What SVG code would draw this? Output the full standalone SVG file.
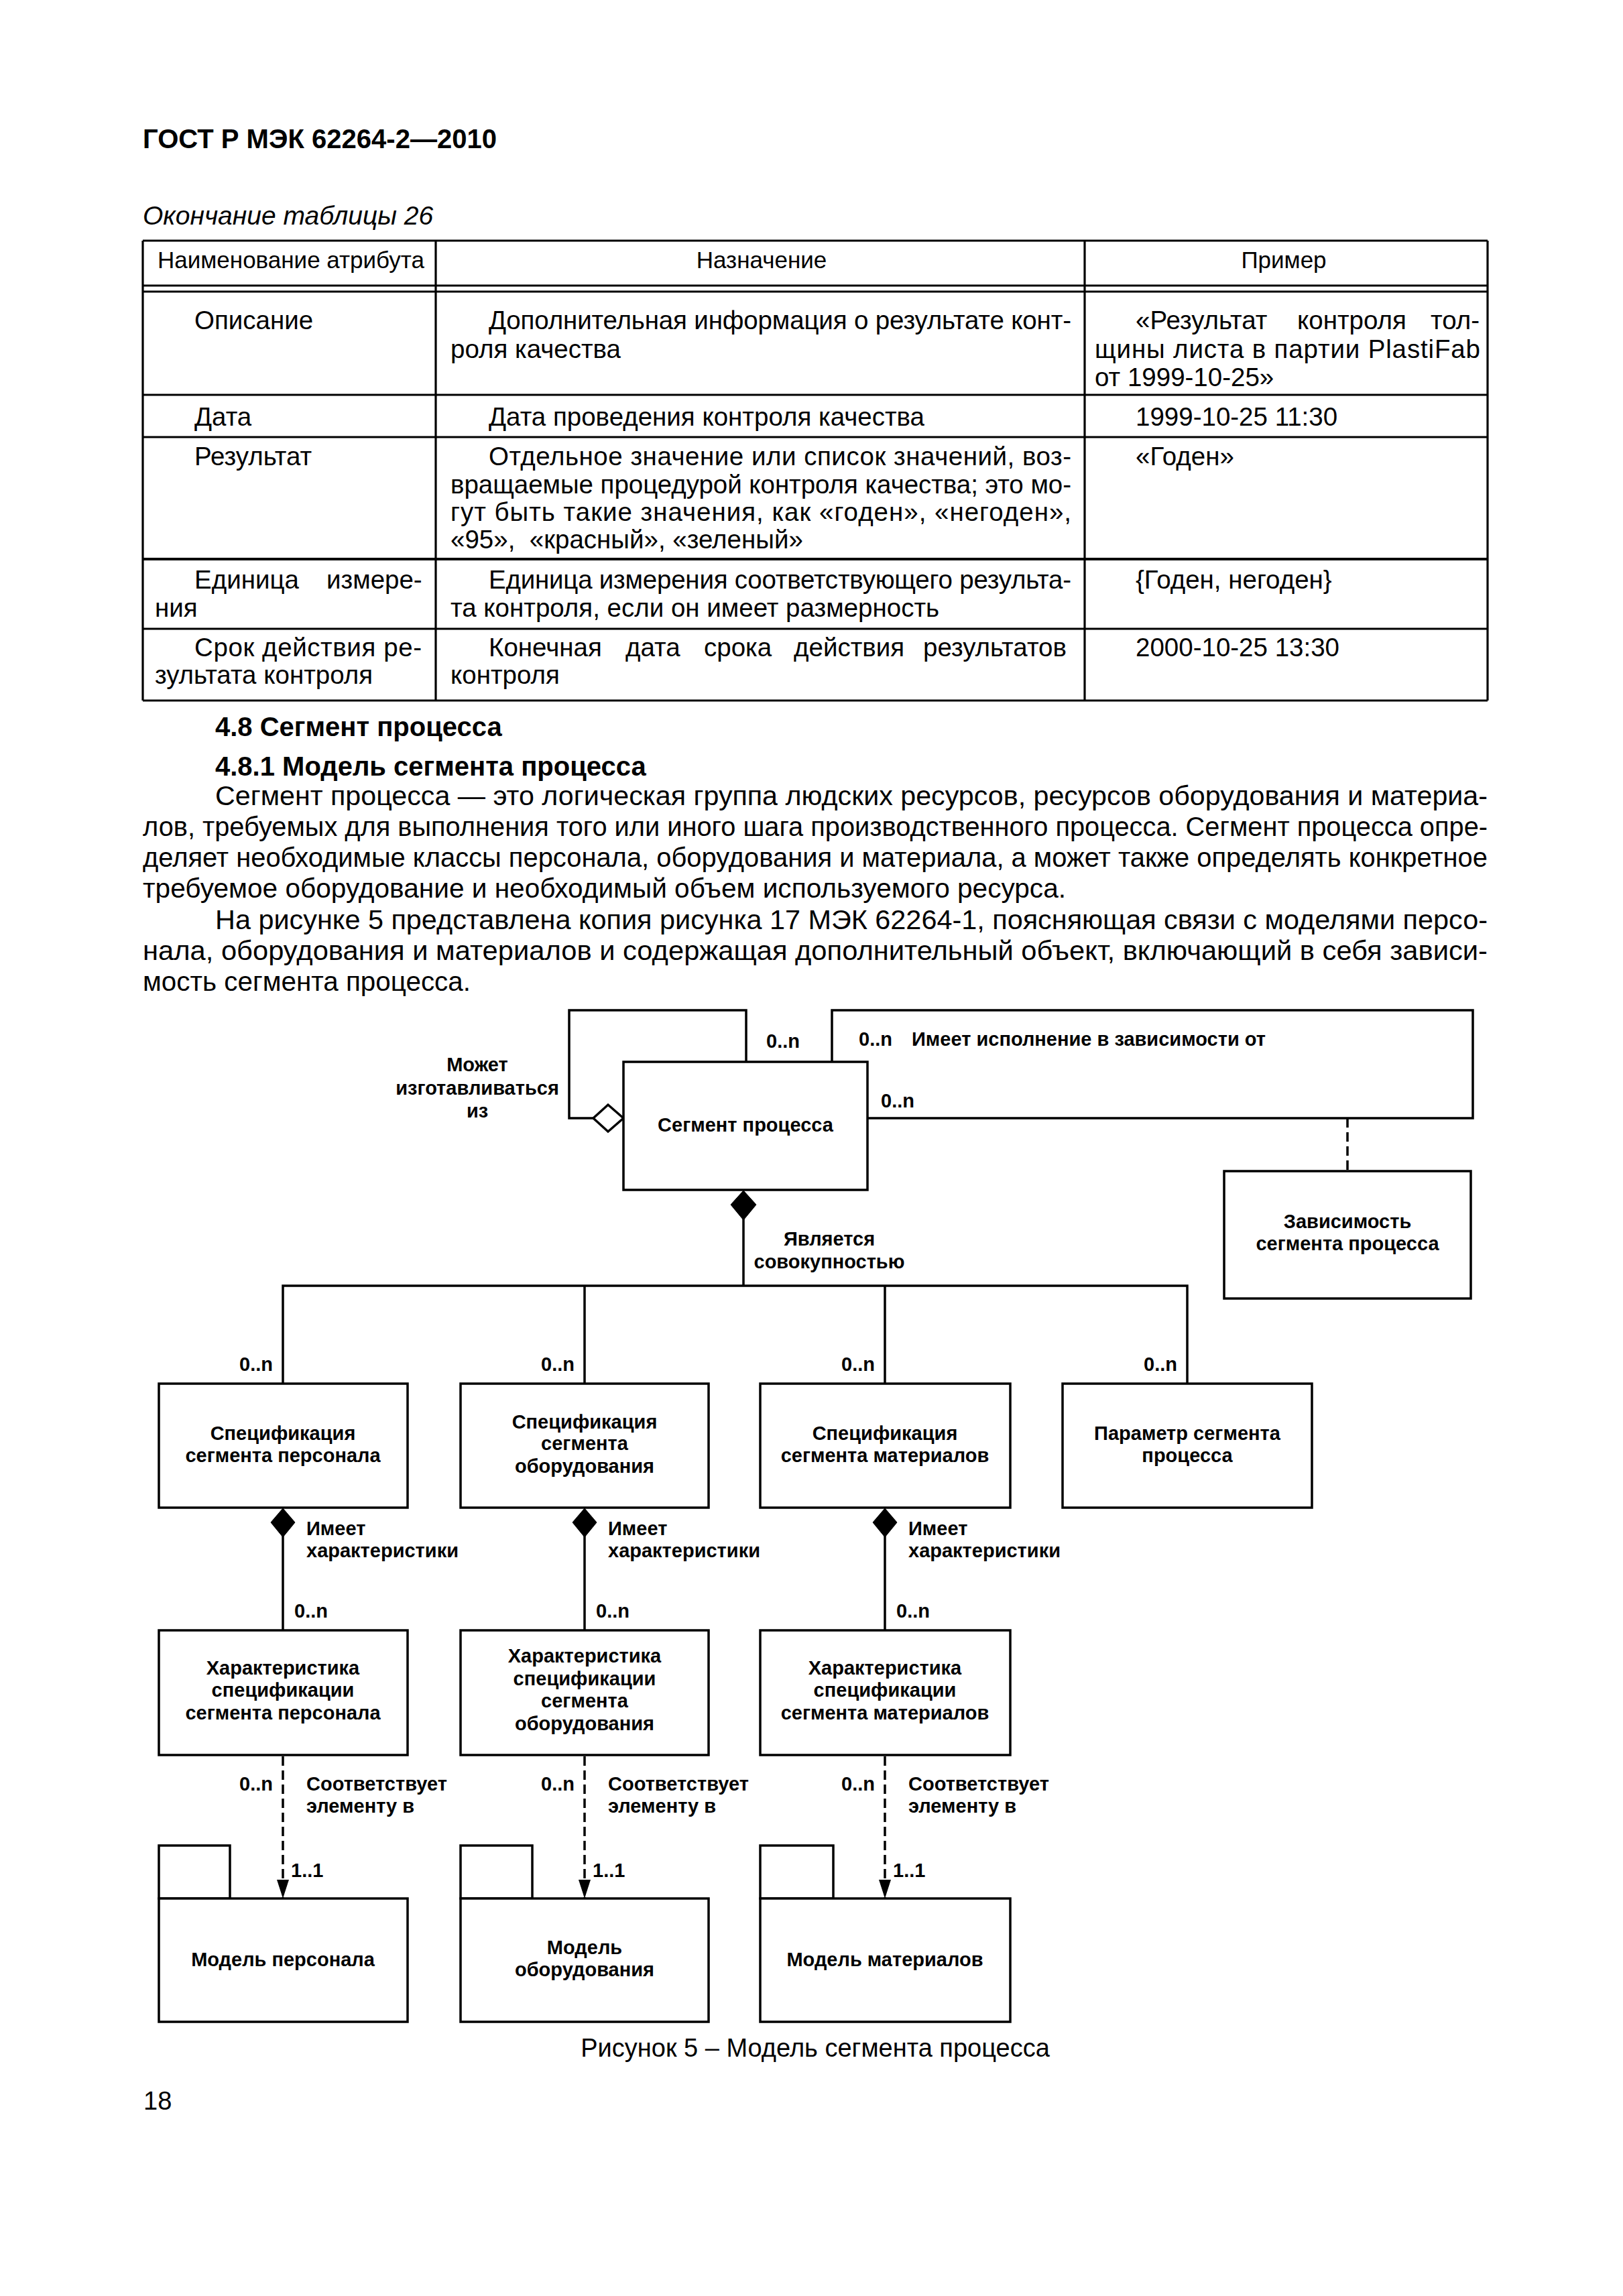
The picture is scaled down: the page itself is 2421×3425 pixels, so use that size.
<svg xmlns="http://www.w3.org/2000/svg" width="2421" height="3425" viewBox="0 0 2421 3425">
<defs>
<style>
text{font-family:"Liberation Sans",Arial,sans-serif;fill:#000}
.hd{font-size:40px;font-weight:bold}
.cap{font-size:39px;font-style:italic}
.th{font-size:35px}
.t{font-size:38.5px}
.b{font-size:40px}
.d{font-size:29px;font-weight:bold;text-anchor:middle}
.dl{font-size:29px;font-weight:bold}
.dr{font-size:29px;font-weight:bold;text-anchor:end}
.fig{font-size:38px}
.tl{stroke:#000;stroke-width:3.2;fill:none}
.box{fill:#fff;stroke:#000;stroke-width:3.5}
.ln{fill:none;stroke:#000;stroke-width:3.5}
.dash{fill:none;stroke:#000;stroke-width:3.5;stroke-dasharray:14 7}
.fd{fill:#000;stroke:#000;stroke-width:1}
.hdm{fill:#fff;stroke:#000;stroke-width:3.5}
</style>
<marker id="arr" markerUnits="userSpaceOnUse" markerWidth="28" markerHeight="20" viewBox="0 0 28 20" refX="28" refY="10" orient="auto">
<path d="M0,1 L28,10 L0,19 z" fill="#000"/>
</marker>
</defs>
<rect width="2421" height="3425" fill="#fff"/>

<g id="page-text">
<text class="hd" x="213" y="221" textLength="528" lengthAdjust="spacingAndGlyphs">ГОСТ Р МЭК 62264-2—2010</text>
<text class="cap" x="213" y="335">Окончание таблицы 26</text>
</g>

<g id="table">
<line class="tl" x1="213" y1="359" x2="2219" y2="359"/>
<line class="tl" x1="213" y1="426" x2="2219" y2="426"/>
<line class="tl" x1="213" y1="435" x2="2219" y2="435"/>
<line class="tl" x1="213" y1="589" x2="2219" y2="589"/>
<line class="tl" x1="213" y1="652" x2="2219" y2="652"/>
<line class="tl" x1="213" y1="834" x2="2219" y2="834" style="stroke-width:4"/>
<line class="tl" x1="213" y1="938" x2="2219" y2="938"/>
<line class="tl" x1="213" y1="1045" x2="2219" y2="1045"/>
<line class="tl" x1="213" y1="359" x2="213" y2="1045"/>
<line class="tl" x1="650" y1="359" x2="650" y2="1045"/>
<line class="tl" x1="1618" y1="359" x2="1618" y2="1045"/>
<line class="tl" x1="2219" y1="359" x2="2219" y2="1045"/>
<text class="th" x="235" y="400">Наименование атрибута</text>
<text class="th" x="1136" y="400" text-anchor="middle">Назначение</text>
<text class="th" x="1915" y="400" text-anchor="middle">Пример</text>

<text class="t" x="290" y="491">Описание</text>
<text class="t" x="729" y="491" textLength="869" lengthAdjust="spacing">Дополнительная информация о результате конт-</text>
<text class="t" x="672" y="534">роля качества</text>
<text class="t" y="491"><tspan x="1694">«Результат</tspan><tspan x="1935">контроля</tspan><tspan x="2134">тол-</tspan></text>
<text class="t" x="1633" y="534" textLength="575" lengthAdjust="spacing">щины листа в партии PlastiFab</text>
<text class="t" x="1633" y="576">от 1999-10-25»</text>

<text class="t" x="290" y="635">Дата</text>
<text class="t" x="729" y="635">Дата проведения контроля качества</text>
<text class="t" x="1694" y="635">1999-10-25 11:30</text>

<text class="t" x="290" y="694">Результат</text>
<text class="t" x="729" y="694" textLength="869" lengthAdjust="spacing">Отдельное значение или список значений, воз-</text>
<text class="t" x="672" y="736" textLength="926" lengthAdjust="spacing">вращаемые процедурой контроля качества; это мо-</text>
<text class="t" x="672" y="777" textLength="926" lengthAdjust="spacing">гут быть такие значения, как «годен», «негоден»,</text>
<text class="t" x="672" y="818" xml:space="preserve">«95»,  «красный», «зеленый»</text>
<text class="t" x="1694" y="694">«Годен»</text>

<text class="t" y="878"><tspan x="290">Единица</tspan><tspan x="487">измере-</tspan></text>
<text class="t" x="231" y="920">ния</text>
<text class="t" x="729" y="878" textLength="869" lengthAdjust="spacing">Единица измерения соответствующего результа-</text>
<text class="t" x="672" y="920">та контроля, если он имеет размерность</text>
<text class="t" x="1694" y="878">{Годен, негоден}</text>

<text class="t" x="290" y="979" textLength="339" lengthAdjust="spacing">Срок действия ре-</text>
<text class="t" x="231" y="1020">зультата контроля</text>
<text class="t" y="979"><tspan x="729">Конечная</tspan><tspan x="933">дата</tspan><tspan x="1050">срока</tspan><tspan x="1184">действия</tspan><tspan x="1377">результатов</tspan></text>
<text class="t" x="672" y="1020">контроля</text>
<text class="t" x="1694" y="979">2000-10-25 13:30</text>
</g>

<g id="section-text">
<text class="hd" x="321" y="1098">4.8 Сегмент процесса</text>
<text class="hd" x="321" y="1157">4.8.1 Модель сегмента процесса</text>
<text class="b" x="321" y="1201" textLength="1898" lengthAdjust="spacingAndGlyphs">Сегмент процесса — это логическая группа людских ресурсов, ресурсов оборудования и материа-</text>
<text class="b" x="213" y="1247" textLength="2006" lengthAdjust="spacingAndGlyphs">лов, требуемых для выполнения того или иного шага производственного процесса. Сегмент процесса опре-</text>
<text class="b" x="213" y="1293" textLength="2006" lengthAdjust="spacingAndGlyphs">деляет необходимые классы персонала, оборудования и материала, а может также определять конкретное</text>
<text class="b" x="213" y="1339" textLength="1377" lengthAdjust="spacingAndGlyphs">требуемое оборудование и необходимый объем используемого ресурса.</text>
<text class="b" x="321" y="1386" textLength="1898" lengthAdjust="spacingAndGlyphs">На рисунке 5 представлена копия рисунка 17 МЭК 62264-1, поясняющая связи с моделями персо-</text>
<text class="b" x="213" y="1432" textLength="2006" lengthAdjust="spacingAndGlyphs">нала, оборудования и материалов и содержащая дополнительный объект, включающий в себя зависи-</text>
<text class="b" x="213" y="1478" textLength="489" lengthAdjust="spacingAndGlyphs">мость сегмента процесса.</text>
</g>

<g id="connectors">
<path class="ln" d="M886,1668 L849,1668 L849,1507 L1113,1507 L1113,1584"/>
<polygon class="hdm" points="930,1668 907,1648 885,1668 907,1688"/>
<path class="ln" d="M1241,1584 L1241,1507 L2197,1507 L2197,1668 L1294,1668"/>
<line class="dash" x1="2010" y1="1668" x2="2010" y2="1747"/>
<line class="ln" x1="1109" y1="1818" x2="1109" y2="1918"/>
<polygon class="fd" points="1109,1776 1128,1797 1109,1820 1090,1797"/>
<path class="ln" d="M422,2064 L422,1918 L1771,1918 L1771,2064"/>
<line class="ln" x1="872" y1="1918" x2="872" y2="2064"/>
<line class="ln" x1="1320" y1="1918" x2="1320" y2="2064"/>
<line class="ln" x1="422" y1="2290" x2="422" y2="2432"/>
<polygon class="fd" points="422,2250 440,2271 422,2293 404,2271"/>
<line class="ln" x1="872" y1="2290" x2="872" y2="2432"/>
<polygon class="fd" points="872,2250 890,2271 872,2293 854,2271"/>
<line class="ln" x1="1320" y1="2290" x2="1320" y2="2432"/>
<polygon class="fd" points="1320,2250 1338,2271 1320,2293 1302,2271"/>
<line class="dash" x1="422" y1="2620" x2="422" y2="2832" marker-end="url(#arr)"/>
<line class="dash" x1="872" y1="2620" x2="872" y2="2832" marker-end="url(#arr)"/>
<line class="dash" x1="1320" y1="2620" x2="1320" y2="2832" marker-end="url(#arr)"/>

<text class="dl" x="1143" y="1563">0..n</text>
<text class="dl" x="1281" y="1560">0..n</text>
<text class="dl" x="1360" y="1560">Имеет исполнение в зависимости от</text>
<text class="dl" x="1314" y="1652">0..n</text>
<text class="d" x="712" y="1598">Может</text>
<text class="d" x="712" y="1633">изготавливаться</text>
<text class="d" x="712" y="1667">из</text>
<text class="d" x="1237" y="1858">Является</text>
<text class="d" x="1237" y="1892">совокупностью</text>
<text class="dr" x="407" y="2045">0..n</text>
<text class="dr" x="857" y="2045">0..n</text>
<text class="dr" x="1305" y="2045">0..n</text>
<text class="dr" x="1756" y="2045">0..n</text>

<text class="dl" x="457" y="2290">Имеет</text>
<text class="dl" x="457" y="2323">характеристики</text>
<text class="dl" x="439" y="2413">0..n</text>
<text class="dl" x="907" y="2290">Имеет</text>
<text class="dl" x="907" y="2323">характеристики</text>
<text class="dl" x="889" y="2413">0..n</text>
<text class="dl" x="1355" y="2290">Имеет</text>
<text class="dl" x="1355" y="2323">характеристики</text>
<text class="dl" x="1337" y="2413">0..n</text>

<text class="dr" x="407" y="2671">0..n</text>
<text class="dl" x="457" y="2671">Соответствует</text>
<text class="dl" x="457" y="2704">элементу в</text>
<text class="dl" x="434" y="2800">1..1</text>
<text class="dr" x="857" y="2671">0..n</text>
<text class="dl" x="907" y="2671">Соответствует</text>
<text class="dl" x="907" y="2704">элементу в</text>
<text class="dl" x="884" y="2800">1..1</text>
<text class="dr" x="1305" y="2671">0..n</text>
<text class="dl" x="1355" y="2671">Соответствует</text>
<text class="dl" x="1355" y="2704">элементу в</text>
<text class="dl" x="1332" y="2800">1..1</text>
</g>

<g id="process-segment">
<rect class="box" x="930" y="1584" width="364" height="191"/>
<text class="d" x="1112" y="1688">Сегмент процесса</text>
</g>
<g id="process-segment-dependency">
<rect class="box" x="1826" y="1747" width="368" height="190"/>
<text class="d" x="2010" y="1832">Зависимость</text>
<text class="d" x="2010" y="1865">сегмента процесса</text>
</g>

<g id="personnel-segment-spec">
<rect class="box" x="237" y="2064" width="371" height="185"/>
<text class="d" x="422" y="2148">Спецификация</text>
<text class="d" x="422" y="2181">сегмента персонала</text>
</g>
<g id="equipment-segment-spec">
<rect class="box" x="687" y="2064" width="370" height="185"/>
<text class="d" x="872" y="2131">Спецификация</text>
<text class="d" x="872" y="2163">сегмента</text>
<text class="d" x="872" y="2197">оборудования</text>
</g>
<g id="material-segment-spec">
<rect class="box" x="1134" y="2064" width="373" height="185"/>
<text class="d" x="1320" y="2148">Спецификация</text>
<text class="d" x="1320" y="2181">сегмента материалов</text>
</g>
<g id="process-segment-parameter">
<rect class="box" x="1585" y="2064" width="372" height="185"/>
<text class="d" x="1771" y="2148">Параметр сегмента</text>
<text class="d" x="1771" y="2181">процесса</text>
</g>

<g id="personnel-segment-spec-property">
<rect class="box" x="237" y="2432" width="371" height="186"/>
<text class="d" x="422" y="2498">Характеристика</text>
<text class="d" x="422" y="2531">спецификации</text>
<text class="d" x="422" y="2565">сегмента персонала</text>
</g>
<g id="equipment-segment-spec-property">
<rect class="box" x="687" y="2432" width="370" height="186"/>
<text class="d" x="872" y="2480">Характеристика</text>
<text class="d" x="872" y="2514">спецификации</text>
<text class="d" x="872" y="2547">сегмента</text>
<text class="d" x="872" y="2581">оборудования</text>
</g>
<g id="material-segment-spec-property">
<rect class="box" x="1134" y="2432" width="373" height="186"/>
<text class="d" x="1320" y="2498">Характеристика</text>
<text class="d" x="1320" y="2531">спецификации</text>
<text class="d" x="1320" y="2565">сегмента материалов</text>
</g>

<g id="personnel-model">
<rect class="box" x="237" y="2753" width="106" height="79"/>
<rect class="box" x="237" y="2832" width="371" height="184"/>
<text class="d" x="422" y="2933">Модель персонала</text>
</g>
<g id="equipment-model">
<rect class="box" x="687" y="2753" width="107" height="79"/>
<rect class="box" x="687" y="2832" width="370" height="184"/>
<text class="d" x="872" y="2915">Модель</text>
<text class="d" x="872" y="2948">оборудования</text>
</g>
<g id="material-model">
<rect class="box" x="1134" y="2753" width="109" height="79"/>
<rect class="box" x="1134" y="2832" width="373" height="184"/>
<text class="d" x="1320" y="2933">Модель материалов</text>
</g>

<g id="figure-caption">
<text class="fig" x="1216" y="3068" text-anchor="middle">Рисунок 5 – Модель сегмента процесса</text>
<text class="fig" x="214" y="3147">18</text>
</g>
</svg>
